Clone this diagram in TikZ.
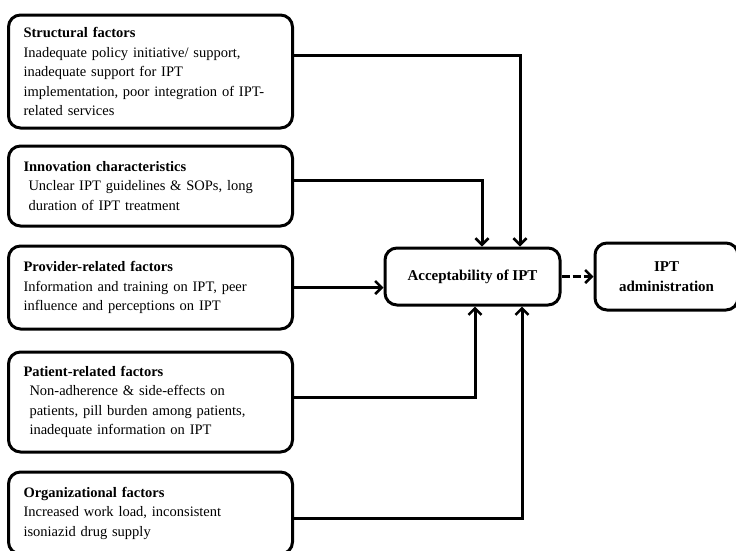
\documentclass[tikz,border=0pt]{standalone}
\usepackage{fontspec}
\setmainfont{Liberation Serif}
\usetikzlibrary{%
    arrows.meta,
    positioning
}
\tikzset{headarrow/.style = {line width=3pt, -{Straight Barb[length=6.5pt,width=13pt,line width=2.6pt]}}}
\tikzset{factorbox/.style = {draw, line width=3pt, rounded corners=12pt,
    text width=254pt, inner xsep=15pt, align=left,
    font=\fontsize{14.5}{19.5}\selectfont}}
\tikzset{resultbox/.style = {draw, line width=3pt, rounded corners=12pt,
    align=center, font=\bfseries\fontsize{15}{20}\selectfont}}
\newcommand{\factortitle}[1]{{\bfseries\fontsize{14.5}{19.5}\selectfont #1}}

\begin{document}
\begin{tikzpicture}[x=1pt,y=-1pt]
    \useasboundingbox (0,0) rectangle (736,550);

    \node[factorbox,minimum height=113pt] (struct) at (150.5,71.5) {%
        \factortitle{Structural factors}\\
        Inadequate policy initiative/ support,\\
        inadequate support for IPT\\
        implementation, poor integration of IPT-\\
        related services};
    \node[factorbox,minimum height=80pt] (innov) [below=15pt of struct] {%
        \factortitle{Innovation characteristics}\\
        \hspace*{5pt}Unclear IPT guidelines \& SOPs, long\\
        \hspace*{5pt}duration of IPT treatment};
    \node[factorbox,minimum height=83pt] (prov) [below=17pt of innov] {%
        \factortitle{Provider-related factors}\\
        Information and training on IPT, peer\\
        influence and perceptions on IPT};
    \node[factorbox,minimum height=100pt] (patient) [below=20pt of prov] {%
        \factortitle{Patient-related factors}\\
        \hspace*{6pt}Non-adherence \& side-effects on\\
        \hspace*{6pt}patients, pill burden among patients,\\
        \hspace*{6pt}inadequate information on IPT};
    \node[factorbox,minimum height=82pt] (organ) [below=17pt of patient] {%
        \factortitle{Organizational factors}\\
        Increased work load, inconsistent\\
        isoniazid drug supply};

    \node[resultbox,minimum width=175pt,minimum height=57pt] (accept) at (472.5,276.5) {Acceptability of IPT};
    \node[resultbox,minimum width=143pt,minimum height=67pt] (admin) [right=32pt of accept] {IPT\\ administration};

    \draw[headarrow] ([yshift=16.5pt]struct.east) -| ([xshift=47.5pt]accept.north);
    \draw[headarrow] ([yshift=6pt]innov.east) -| ([xshift=9.5pt]accept.north);
    \draw[headarrow] (prov.east) -- (prov.east -| accept.west);
    \draw[headarrow] ([yshift=5pt]patient.east) -| ([xshift=2.5pt]accept.south);
    \draw[headarrow] ([yshift=-5pt]organ.east) -| ([xshift=49.5pt]accept.south);
    \draw[headarrow,dash pattern=on 8pt off 3pt] (accept.east) -- (accept.east -| admin.west);
\end{tikzpicture}
\end{document}
